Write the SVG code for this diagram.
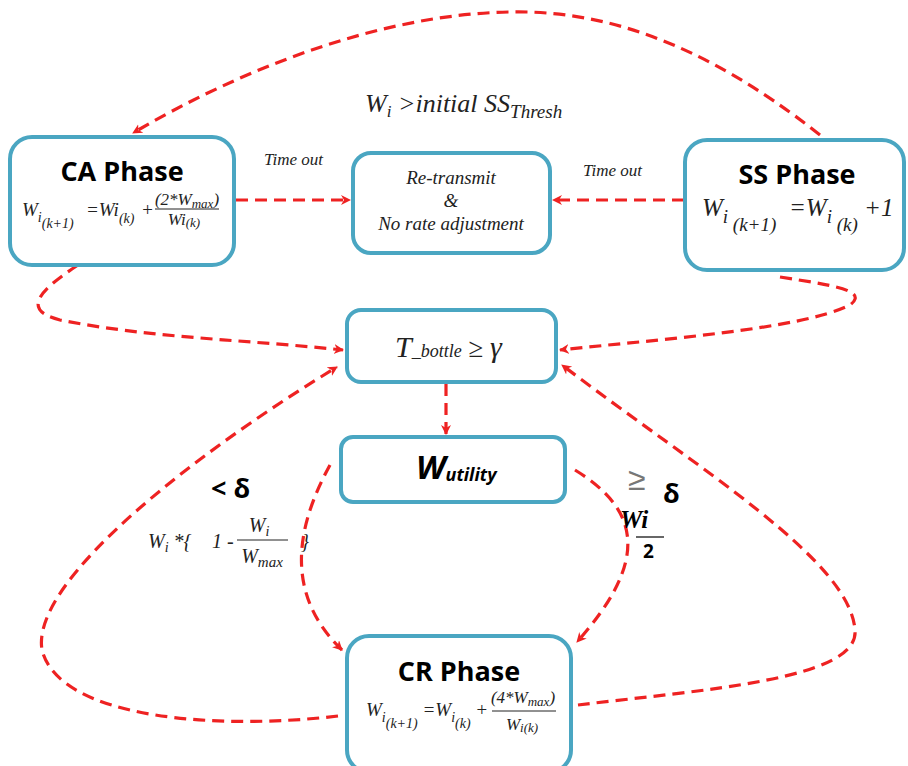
<svg xmlns="http://www.w3.org/2000/svg" width="908" height="766" viewBox="0 0 908 766">
<defs>
<style>
.box{fill:#fff;stroke:#4aa6c2;stroke-width:4}
.con{fill:none;stroke:#ee2222;stroke-width:3.2;stroke-dasharray:12 7}
.t{font-family:"Open Sans","Liberation Sans",sans-serif;font-weight:bold;font-size:27px;fill:#000;text-anchor:middle}
.m{font-family:"Liberation Serif",serif;font-style:italic;fill:#222}
.lab{font-family:"Liberation Serif",serif;font-style:italic;fill:#222}
</style>
<marker id="ah" markerWidth="12" markerHeight="12" refX="9" refY="5" orient="auto" markerUnits="userSpaceOnUse">
<path d="M0,0 L10,5 L0,10 L3,5 Z" fill="#ee2222"/>
</marker>
</defs>
<rect width="908" height="766" fill="#fff"/>

<g id="connectors">
<path class="con" d="M820,135 C700,40 600,10 510,12 C380,14 240,70 133,133" marker-end="url(#ah)"/>
<path class="con" d="M236,200 L350,200" marker-end="url(#ah)"/>
<path class="con" d="M684,200 L553,200" marker-end="url(#ah)"/>
<path class="con" d="M78,265 C40,290 20,310 60,320 C150,338 250,340 343,350" marker-end="url(#ah)"/>
<path class="con" d="M780,277 C830,285 870,290 850,305 C800,330 650,340 560,350" marker-end="url(#ah)"/>
<path class="con" d="M446,384 L446,434" marker-end="url(#ah)"/>
<path class="con" d="M330,465 C300,520 280,590 342,650" marker-end="url(#ah)"/>
<path class="con" d="M575,470 C640,510 650,560 577,642" marker-end="url(#ah)"/>
<path class="con" d="M338,716 C220,730 60,720 42,650 C30,580 200,450 337,367" marker-end="url(#ah)"/>
<path class="con" d="M578,705 C700,690 860,680 855,630 C850,560 700,470 562,365" marker-end="url(#ah)"/>
</g>

<g id="ca-phase">
<rect class="box" x="10" y="137" width="224" height="128" rx="22"/>
<text class="t" x="122" y="181">CA Phase</text>
<text class="m" font-size="19"><tspan x="22" y="216">W</tspan><tspan font-size="14" y="222">i</tspan><tspan font-size="14" y="228">(k+1)</tspan><tspan font-size="19" x="86" y="216">=Wi</tspan><tspan font-size="14" y="223">(k)</tspan><tspan font-size="19" x="141" y="216">+</tspan></text>
<text class="m" font-size="17" x="187" y="205" text-anchor="middle">(2*W<tspan font-size="13" dy="3">max</tspan><tspan dy="-3">)</tspan></text>
<line x1="155" y1="209" x2="219" y2="209" stroke="#222" stroke-width="1"/>
<text class="m" font-size="17" x="184" y="225" text-anchor="middle">Wi<tspan font-size="13" dy="2">(k)</tspan></text>
</g>

<g id="retransmit">
<rect class="box" x="353" y="153" width="197" height="100" rx="18"/>
<text class="lab" font-size="19" text-anchor="middle"><tspan x="451" y="184">Re-transmit</tspan><tspan x="451" y="207">&amp;</tspan><tspan x="451" y="230">No rate adjustment</tspan></text>
</g>

<g id="ss-phase">
<rect class="box" x="685" y="140" width="219" height="130" rx="22"/>
<text class="t" x="797" y="184">SS Phase</text>
<text class="m" font-size="25"><tspan x="702" y="216">W</tspan><tspan font-size="19" y="223">i</tspan><tspan font-size="19" y="231"> (k+1)</tspan><tspan font-size="25" x="789" y="216">=W</tspan><tspan font-size="19" y="223">i</tspan><tspan font-size="19" y="231"> (k)</tspan><tspan font-size="25" y="216"> +1</tspan></text>
</g>

<g id="t-bottle">
<rect class="box" x="347" y="310" width="209" height="72" rx="14"/>
<text class="m" font-size="30" x="395" y="357">T<tspan font-size="18">_bottle</tspan><tspan font-style="normal" font-size="27"> ≥ </tspan>γ</text>
</g>

<g id="w-utility">
<rect class="box" x="341" y="437" width="224" height="65" rx="12"/>
<text font-family="Open Sans,Liberation Sans,sans-serif" font-weight="bold" font-style="italic" font-size="33" x="416" y="479" fill="#000">W<tspan font-size="18" dy="2">utility</tspan></text>
</g>

<g id="cr-phase">
<rect class="box" x="347" y="636" width="224" height="136" rx="22"/>
<text class="t" x="459" y="681">CR Phase</text>
<text class="m" font-size="19"><tspan x="366" y="716">W</tspan><tspan font-size="14" y="722">i</tspan><tspan font-size="14" y="728">(k+1)</tspan><tspan font-size="19" y="716"> =W</tspan><tspan font-size="14" y="722">i</tspan><tspan font-size="14" y="728">(k)</tspan><tspan font-size="19" y="716"> +</tspan></text>
<text class="m" font-size="17" x="523" y="703" text-anchor="middle">(4*W<tspan font-size="13" dy="3">max</tspan><tspan dy="-3">)</tspan></text>
<line x1="492" y1="711" x2="556" y2="711" stroke="#222" stroke-width="1"/>
<text class="m" font-size="17" x="522" y="730" text-anchor="middle">W<tspan font-size="13" dy="2">i(k)</tspan></text>
</g>

<g id="labels">
<text class="m" font-size="26" x="365" y="112">W<tspan font-size="17" dy="5">i</tspan><tspan font-size="26" dy="-5"> &gt;initial SS</tspan><tspan font-size="19" dy="6">Thresh</tspan></text>
<text class="lab" font-size="17" x="264" y="165">Time out</text>
<text class="lab" font-size="17" x="583" y="176">Time out</text>
<text font-family="Open Sans,Liberation Sans,sans-serif" font-weight="bold" font-size="27" x="211" y="498" fill="#000">&lt; δ</text>
<text class="m" font-size="20" x="148" y="548">W<tspan font-size="14" dy="4">i</tspan><tspan font-size="20" dy="-4"> *{</tspan><tspan x="212">1 -</tspan></text>
<text class="m" font-size="20" x="259" y="532" text-anchor="middle">W<tspan font-size="14" dy="4">i</tspan></text>
<line x1="237" y1="540" x2="288" y2="540" stroke="#222" stroke-width="1"/>
<text class="m" font-size="20" x="262" y="563" text-anchor="middle">W<tspan font-size="15" dy="4">max</tspan></text>
<text class="m" font-size="20" x="301" y="548">}</text>
<text font-family="Liberation Sans,sans-serif" font-size="32" x="628" y="490" fill="#777">≥</text>
<text font-family="Open Sans,Liberation Sans,sans-serif" font-weight="bold" font-size="27" x="663" y="503" fill="#000">δ</text>
<text font-family="Liberation Serif,serif" font-weight="bold" font-style="italic" font-size="25" x="620" y="528" fill="#000">Wi</text>
<line x1="636" y1="537" x2="664" y2="537" stroke="#000" stroke-width="1.2"/>
<text font-family="Open Sans,Liberation Sans,sans-serif" font-weight="bold" font-size="19" x="643" y="558" fill="#000">2</text>
</g>
</svg>
